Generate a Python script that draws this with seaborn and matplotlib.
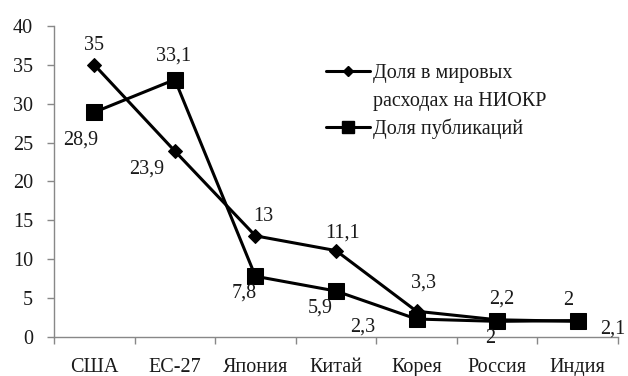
import matplotlib
matplotlib.use("Agg")
import matplotlib.pyplot as plt
import seaborn as sns
import pandas as pd
import numpy as np
from matplotlib.lines import Line2D

countries = ["США", "ЕС-27", "Япония", "Китай", "Корея", "Россия", "Индия"]
rd_share = [35, 23.9, 13, 11.1, 3.3, 2.2, 2]
pub_share = [28.9, 33.1, 7.8, 5.9, 2.3, 2, 2.1]
rd_name_lines = ["Доля в мировых", "расходах на НИОКР"]
pub_name = "Доля публикаций"
y_ticks = [0, 5, 10, 15, 20, 25, 30, 35, 40]

sns.set_theme(style="white")
plt.rcParams["font.family"] = ["Liberation Serif", "DejaVu Serif"]
text_color = "#1a1a1a"
fs = 14.5

fig = plt.figure(figsize=(6.28, 3.76), dpi=100)
ax = fig.add_axes([0.086, 0.104, 0.898, 0.827])

pos = np.arange(len(countries))
df = pd.DataFrame({"pos": pos, "rd": rd_share, "pub": pub_share})

sns.lineplot(data=df, x="pos", y="rd", ax=ax, color="black", linewidth=2.2,
             marker="D", markersize=7.5, markeredgecolor="black")
sns.lineplot(data=df, x="pos", y="pub", ax=ax, color="black", linewidth=2.2,
             marker="s", markersize=11, markeredgecolor="black")

ax.set_xlim(-0.5, len(countries) - 0.5)
ax.set_ylim(0, 40)
ax.set_xlabel("")
ax.set_ylabel("")

# category boundaries get tick marks; names sit between them
ax.set_xticks(np.arange(-0.5, len(countries)), minor=False)
ax.set_xticklabels([])
ax.set_xticks(pos, minor=True)
ax.set_xticklabels(countries, minor=True)
ax.tick_params(axis="x", which="major", length=5, width=1, color="#888888",
               direction="out", bottom=True)
ax.tick_params(axis="x", which="minor", length=0, pad=15, labelsize=fs,
               labelcolor=text_color)

ax.set_yticks(y_ticks)
ax.set_yticklabels([str(v) for v in y_ticks])
ax.tick_params(axis="y", length=5, width=1, color="#888888", direction="out",
               left=True, pad=10, labelsize=fs, labelcolor=text_color)

for side in ["top", "right"]:
    ax.spines[side].set_visible(False)
for side in ["left", "bottom"]:
    ax.spines[side].set_color("#888888")
    ax.spines[side].set_linewidth(1)

def fmt(v):
    return f"{v:g}".replace(".", ",")

# value labels: offsets in points relative to each marker
rd_offsets = [(0, 14), (-20, -13), (6, 14), (5, 13), (5, 20), (3, 15), (-7, 15)]
pub_offsets = [(-10, -20), (-1, 17), (-8, -12), (-11, -12), (-39, -6), (-5, -12), (25, -6)]
for i, v in enumerate(rd_share):
    ax.annotate(fmt(v), (pos[i], v), xytext=rd_offsets[i], textcoords="offset points",
                ha="center", va="center", fontsize=fs, color=text_color)
for i, v in enumerate(pub_share):
    ax.annotate(fmt(v), (pos[i], v), xytext=pub_offsets[i], textcoords="offset points",
                ha="center", va="center", fontsize=fs, color=text_color)

# legend: the two-line label keeps its key on the first line
handles = [
    Line2D([], [], color="black", linewidth=2.2, marker="D", markersize=5.5),
    Line2D([], [], color="none"),
    Line2D([], [], color="black", linewidth=2.2, marker="s", markersize=9),
]
labels = rd_name_lines + [pub_name]
leg = ax.legend(handles, labels, loc="upper left",
                bbox_to_anchor=(0.45, 0.935), frameon=False, fontsize=fs,
                handlelength=2.2, handletextpad=0.15, labelspacing=0.4,
                labelcolor=text_color)

fig.savefig("out.png", dpi=100)
